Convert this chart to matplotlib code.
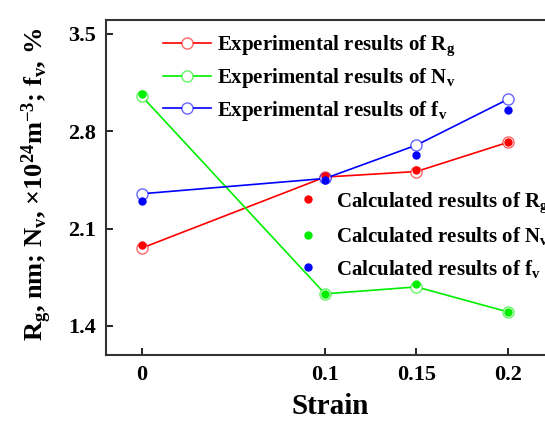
import numpy as np
import matplotlib
matplotlib.use('Agg')
import matplotlib.pyplot as plt

# datos
strain = [0, 0.1, 0.15, 0.2]
rg_exp = [1.96, 2.47, 2.51, 2.72]
nv_exp = [3.05, 1.63, 1.68, 1.50]
fv_exp = [2.35, 2.46, 2.70, 3.03]
rg_calc = [1.98, 2.48, 2.52, 2.72]
nv_calc = [3.07, 1.63, 1.70, 1.50]
fv_calc = [2.30, 2.45, 2.63, 2.95]

xticks = [0, 0.1, 0.15, 0.2]
xtick_labels = ['0', '0.1', '0.15', '0.2']
yticks = [1.4, 2.1, 2.8, 3.5]

plt.rcParams['font.family'] = ['Liberation Serif', 'DejaVu Serif']
plt.rcParams['font.weight'] = 'bold'
plt.rcParams['mathtext.default'] = 'regular'

fig = plt.figure(figsize=(5.45, 4.21), dpi=100)
ax = fig.add_axes([106 / 545, 66 / 421, 449 / 545, 335 / 421])

colores = ['#ff0000', '#00ee00', '#0000ff']
nombres = ['R$_g$', 'N$_v$', 'f$_v$']
lineas = []
for y, c, n in zip([rg_exp, nv_exp, fv_exp], colores, nombres):
    l, = ax.plot(strain, y, color=c, lw=1.2, marker='o', ms=8,
                 mfc='white', mec=matplotlib.colors.to_rgba(c, 0.6), mew=1.0,
                 label='Experimental results of ' + n)
    lineas.append(l)

puntos = []
for y, c, n in zip([rg_calc, nv_calc, fv_calc], colores, nombres):
    p, = ax.plot(strain, y, ls='none', marker='o', ms=5, color=c,
                 label='Calculated results of ' + n)
    puntos.append(p)

ax.set_xlim(-0.0197, 0.2257)
ax.set_ylim(1.19, 3.6)
ax.set_xticks(xticks)
ax.set_xticklabels(xtick_labels)
ax.set_yticks(yticks)
ax.tick_params(direction='in', length=5, width=1.2, labelsize=16, pad=7)
for s in ax.spines.values():
    s.set_linewidth(1.5)
    s.set_color('#333333')

ax.set_xlabel('Strain', fontsize=21, fontweight='bold', labelpad=6)
ax.set_ylabel('R$_g$, nm; N$_v$, \u00d710$^{24}$m$^{-3}$; f$_v$, %',
              fontsize=19, fontweight='bold')
ax.yaxis.set_label_coords(-0.115, 0.51)

leg1 = ax.legend(handles=lineas, loc='upper left', bbox_to_anchor=(0.085, 1.016),
                 frameon=False, fontsize=15, handlelength=2.3, handletextpad=0.3,
                 labelspacing=0.4)
ax.add_artist(leg1)
ax.legend(handles=puntos, loc='upper left', bbox_to_anchor=(0.385, 0.548),
          frameon=False, fontsize=15, handlelength=1.0, handletextpad=0.85,
          labelspacing=0.5, numpoints=1)

fig.savefig('out.png', dpi=100)
